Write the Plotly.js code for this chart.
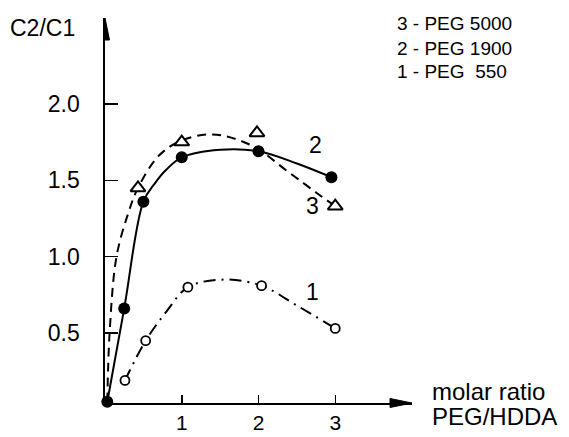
<!DOCTYPE html>
<html>
<head>
<meta charset="utf-8">
<script src="https://cdn.plot.ly/plotly-3.0.1.min.js"></script>
<style>
html,body{margin:0;padding:0;background:#fff;}
#chart{width:569px;height:437px;}
</style>
</head>
<body>
<div id="chart"></div>
<script>
// ---- data ----
// measured points
const peg1900_x = [0.03, 0.25, 0.5, 1.0, 2.0, 2.95];
const peg1900_y = [0.05, 0.66, 1.36, 1.65, 1.69, 1.52];
const peg5000_x = [0.43, 1.0, 1.98, 3.0];
const peg5000_y = [1.45, 1.75, 1.81, 1.33];
const peg550_x = [0.26, 0.53, 1.08, 2.04, 3.0];
const peg550_y = [0.19, 0.45, 0.80, 0.81, 0.53];
// fitted curves
const curve1900_x = [0.03, 0.25, 0.5, 0.65, 0.8, 1.0, 1.5, 2.0, 2.5, 2.95];
const curve1900_y = [0.05, 0.66, 1.36, 1.48, 1.57, 1.65, 1.70, 1.69, 1.61, 1.52];
const curve5000_x = [0.03, 0.06, 0.15, 0.3, 0.43, 0.7, 1.0, 1.4, 1.9, 2.4, 2.75, 3.0];
const curve5000_y = [0.05, 0.5, 1.0, 1.28, 1.45, 1.66, 1.76, 1.80, 1.73, 1.55, 1.42, 1.33];
const curve550_x = [0.26, 0.53, 0.8, 1.08, 1.55, 2.04, 2.5, 3.0];
const curve550_y = [0.19, 0.45, 0.64, 0.80, 0.85, 0.81, 0.68, 0.53];
// axis ticks
const yTickVals = [0.5, 1.0, 1.5, 2.0];
const yTickText = ['0.5', '1.0', '1.5', '2.0'];
const xTickVals = [1, 2, 3];
const xTickText = ['1', '2', '3'];
// texts
const legendLines = ['3 - PEG 5000', '2 - PEG 1900', '1 - PEG  550'];
const curveLabels = ['2', '3', '1'];
const curveLabelX = [2.74, 2.70, 2.71];
const curveLabelY = [1.73, 1.33, 0.77];

const FONT = 'Liberation Sans, Arial, Helvetica, sans-serif';
const black = '#000';

const traces = [
  {x: curve5000_x, y: curve5000_y, mode: 'lines', line: {shape: 'spline', smoothing: 1, color: black, width: 2, dash: '9px,6px'}, hoverinfo: 'skip', cliponaxis: false},
  {x: curve1900_x, y: curve1900_y, mode: 'lines', line: {shape: 'spline', smoothing: 1, color: black, width: 2}, hoverinfo: 'skip', cliponaxis: false},
  {x: curve550_x, y: curve550_y, mode: 'lines', line: {shape: 'spline', smoothing: 1, color: black, width: 2, dash: '12px,6px,2px,6px'}, hoverinfo: 'skip', cliponaxis: false},
  {x: peg5000_x, y: peg5000_y, mode: 'markers', marker: {symbol: 'triangle-up', size: 13, color: '#fff', line: {color: black, width: 2}}, cliponaxis: false},
  {x: peg1900_x, y: peg1900_y, mode: 'markers', marker: {symbol: 'circle', size: 12, color: black, line: {width: 0}}, cliponaxis: false},
  {x: peg550_x, y: peg550_y, mode: 'markers', marker: {symbol: 'circle', size: 9, color: '#fff', line: {color: black, width: 1.8}}, cliponaxis: false}
];

const annotations = [];
const legendY = [0.987, 0.921, 0.862];
legendLines.forEach((t, i) => annotations.push({
  text: t, xref: 'paper', yref: 'paper', x: 0.945, y: legendY[i],
  xanchor: 'left', yanchor: 'middle', showarrow: false, font: {family: FONT, size: 19, color: black}
}));
curveLabels.forEach((t, i) => annotations.push({
  text: t, xref: 'x', yref: 'y', x: curveLabelX[i], y: curveLabelY[i],
  xanchor: 'center', yanchor: 'middle', showarrow: false, font: {family: FONT, size: 23, color: black}
}));
annotations.push({text: 'C2/C1', xref: 'paper', yref: 'paper', x: -0.205, y: 0.975, xanchor: 'center', yanchor: 'middle', showarrow: false, font: {family: FONT, size: 23, color: black}});
annotations.push({text: 'molar ratio', xref: 'paper', yref: 'paper', x: 1.06, y: 0.029, xanchor: 'left', yanchor: 'middle', showarrow: false, font: {family: FONT, size: 24, color: black}});
annotations.push({text: 'PEG/HDDA', xref: 'paper', yref: 'paper', x: 1.06, y: -0.036, xanchor: 'left', yanchor: 'middle', showarrow: false, font: {family: FONT, size: 24, color: black}});

const shapes = [
  // arrowhead on y axis
  {type: 'path', xref: 'x', yref: 'paper', xsizemode: 'pixel', ysizemode: 'pixel', xanchor: 0, yanchor: 1,
   path: 'M0,0 L-4.5,-22 L4.5,-22 Z', fillcolor: black, line: {color: black, width: 1}},
  // arrowhead on x axis
  {type: 'path', xref: 'paper', yref: 'paper', xsizemode: 'pixel', ysizemode: 'pixel', xanchor: 1, yanchor: 0,
   path: 'M0,0 L-22,4.5 L-22,-4.5 Z', fillcolor: black, line: {color: black, width: 1}}
];

const layout = {
  width: 569, height: 437,
  margin: {l: 105, r: 157, t: 18, b: 34},
  paper_bgcolor: '#fff', plot_bgcolor: '#fff',
  showlegend: false,
  font: {family: FONT, color: black},
  xaxis: {
    range: [0, 4], showgrid: false, zeroline: false, showline: true, linecolor: black, linewidth: 1.6,
    ticks: 'inside', ticklen: 8, tickwidth: 1.5, tickcolor: black,
    tickvals: xTickVals, ticktext: xTickText, ticklabelstandoff: 0,
    tickfont: {family: FONT, size: 21, color: black}, fixedrange: true
  },
  yaxis: {
    range: [0.042, 2.562], showgrid: false, zeroline: false, showline: true, linecolor: black, linewidth: 1.6,
    ticks: 'inside', ticklen: 13, tickwidth: 1.5, tickcolor: black,
    tickvals: yTickVals, ticktext: yTickText, ticklabelstandoff: 19,
    tickfont: {family: FONT, size: 23, color: black}, fixedrange: true
  },
  annotations: annotations,
  shapes: shapes
};

Plotly.newPlot('chart', traces, layout, {displayModeBar: false, staticPlot: true});
</script>
</body>
</html>
